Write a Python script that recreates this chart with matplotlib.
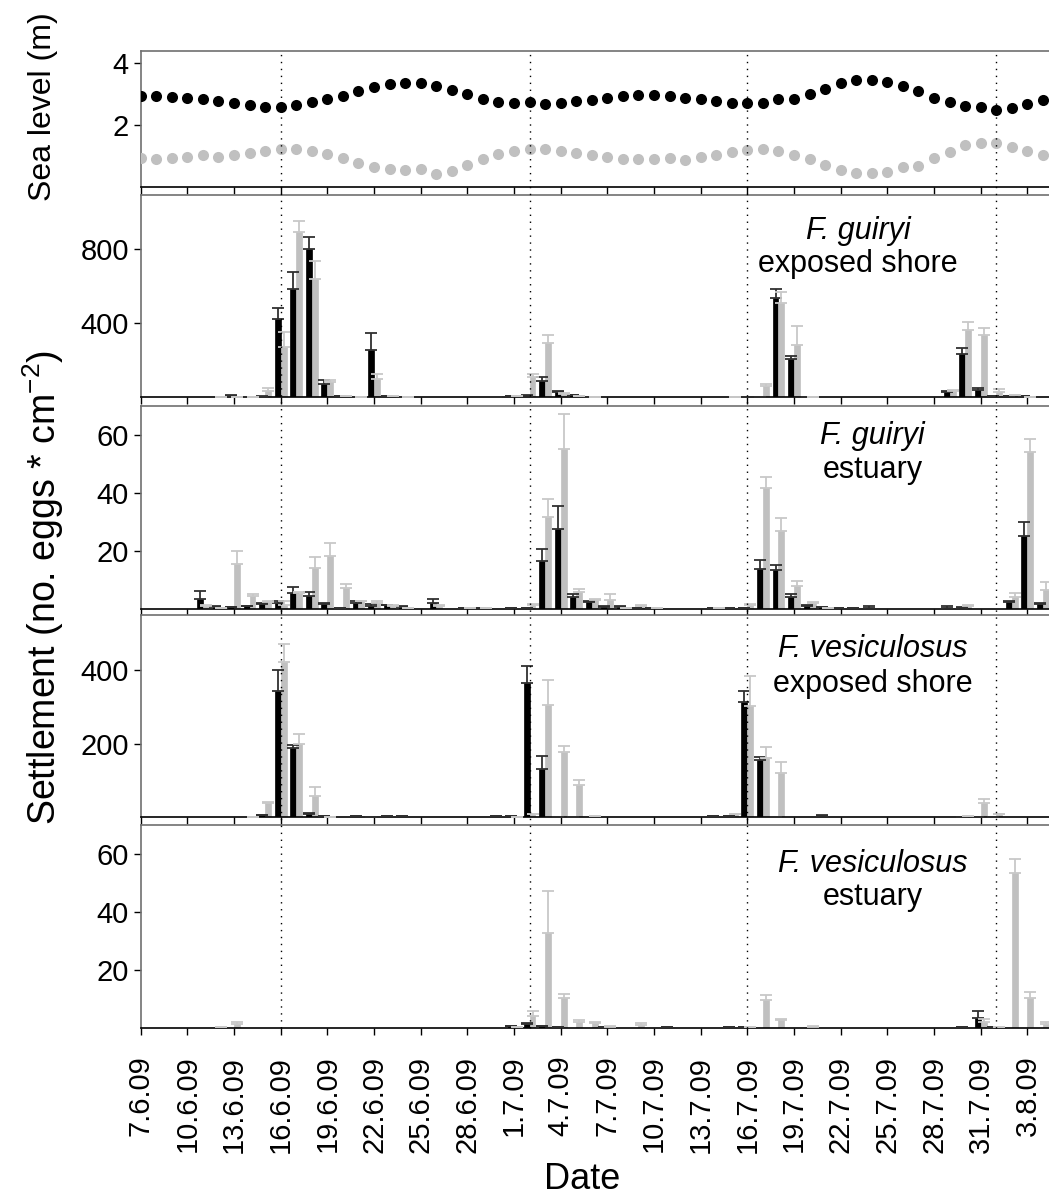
import matplotlib
matplotlib.use('Agg')
import matplotlib.pyplot as plt
import matplotlib.transforms as mtransforms
from matplotlib.lines import Line2D
import numpy as np

plt.rcParams['font.family'] = ['Liberation Sans', 'DejaVu Sans']
plt.rcParams['mathtext.fontset'] = 'custom'
plt.rcParams['mathtext.rm'] = 'Liberation Sans'
plt.rcParams['mathtext.it'] = 'Liberation Sans:italic'

# days since 7.6.09
days = np.arange(59)
tick_days = np.arange(0, 58, 3)
tick_labels = ['7.6.09', '10.6.09', '13.6.09', '16.6.09', '19.6.09', '22.6.09',
               '25.6.09', '28.6.09', '1.7.09', '4.7.09', '7.7.09', '10.7.09',
               '13.7.09', '16.7.09', '19.7.09', '22.7.09', '25.7.09', '28.7.09',
               '31.7.09', '3.8.09']
spring_days = [9, 25, 39, 55]

# sea level (m), one value per day
high_tide = [2.95, 2.95, 2.91, 2.89, 2.83, 2.78, 2.72, 2.64, 2.59, 2.57,
             2.64, 2.75, 2.83, 2.95, 3.11, 3.22, 3.32, 3.36, 3.35, 3.27,
             3.13, 2.99, 2.84, 2.74, 2.72, 2.74, 2.69, 2.72, 2.78, 2.82,
             2.88, 2.94, 2.97, 2.97, 2.95, 2.89, 2.83, 2.77, 2.72, 2.70,
             2.72, 2.85, 2.83, 3.00, 3.18, 3.36, 3.45, 3.46, 3.39, 3.26,
             3.11, 2.89, 2.74, 2.61, 2.60, 2.48, 2.56, 2.68, 2.81]
low_tide = [0.93, 0.91, 0.94, 0.98, 1.02, 0.97, 1.03, 1.11, 1.17, 1.22,
            1.22, 1.15, 1.06, 0.93, 0.78, 0.65, 0.57, 0.55, 0.57, 0.42,
            0.53, 0.71, 0.90, 1.06, 1.18, 1.23, 1.23, 1.17, 1.11, 1.03,
            0.96, 0.91, 0.90, 0.90, 0.95, 0.87, 0.96, 1.03, 1.13, 1.19,
            1.22, 1.17, 1.05, 0.89, 0.70, 0.55, 0.46, 0.44, 0.49, 0.64,
            0.68, 0.93, 1.14, 1.35, 1.43, 1.41, 1.30, 1.17, 1.05]

# F. guiryi, exposed shore
gui_exp_black = [0, 0, 0, 0, 0, 0, 3, 1, 2, 422,
                 583, 800, 72, 4, 2, 252, 5, 1, 0, 0,
                 0, 0, 0, 2, 3, 5, 88, 25, 8, 2,
                 0, 0, 0, 0, 0, 0, 0, 0, 0, 2,
                 2, 535, 207, 2, 0, 0, 0, 0, 0, 0,
                 0, 0, 29, 234, 36, 5, 3, 3, 0]
gui_exp_black_err = [0, 0, 0, 0, 0, 0, 6, 0, 1, 57,
                     91, 65, 18, 1, 0, 94, 2, 0, 0, 0,
                     0, 0, 0, 0, 0, 6, 18, 5, 2, 0,
                     0, 0, 0, 0, 0, 0, 0, 0, 0, 0,
                     0, 47, 13, 0, 0, 0, 0, 0, 0, 0,
                     0, 0, 2, 29, 12, 2, 0, 0, 0]
gui_exp_grey = [0, 0, 0, 0, 0, 1, 1, 1, 34, 268,
                893, 640, 79, 4, 1, 97, 3, 2, 0, 0,
                0, 0, 0, 0, 3, 108, 291, 18, 4, 2,
                0, 0, 0, 0, 0, 0, 0, 0, 2, 0,
                57, 508, 283, 2, 0, 0, 0, 0, 0, 0,
                0, 0, 32, 360, 333, 27, 10, 2, 0]
gui_exp_grey_err = [0, 0, 0, 0, 0, 0, 0, 0, 13, 83,
                    60, 97, 11, 1, 0, 27, 0, 0, 0, 0,
                    0, 0, 0, 0, 0, 16, 42, 4, 0, 0,
                    0, 0, 0, 0, 0, 0, 0, 0, 0, 0,
                    13, 60, 101, 0, 0, 0, 0, 0, 0, 0,
                    0, 0, 8, 47, 38, 14, 3, 0, 0]

# F. guiryi, estuary
gui_est_black = [0, 0, 0, 0, 3.3, 0.8, 0.8, 1, 1.7, 2,
                 5.6, 4.5, 1.6, 0.5, 2.2, 1.1, 1.3, 0.6, 0, 2,
                 0, 0.3, 0.3, 0, 0.3, 0.5, 16.4, 27.5, 4.3, 2.5,
                 0.8, 0.8, 0.3, 0.3, 0, 0, 0, 0.3, 0.3, 0.3,
                 13.8, 13.4, 4.3, 1.1, 0.6, 0.2, 0.2, 0.5, 0, 0,
                 0, 0, 0.5, 0.5, 0, 0, 2.5, 25.2, 1.6]
gui_est_black_err = [0, 0, 0, 0, 3, 0.3, 0, 0.2, 0.5, 0.7,
                     1.9, 1.2, 0.4, 0, 0.7, 0.6, 0.2, 0.3, 0, 1.6,
                     0, 0, 0, 0, 0, 0, 4.3, 8, 0.8, 0.2,
                     0.3, 0.3, 0, 0, 0, 0, 0, 0, 0, 0,
                     3.1, 1.8, 0.8, 0.4, 0.1, 0, 0, 0.6, 0, 0,
                     0, 0, 0.4, 0.3, 0, 0, 0.2, 4.7, 0.5]
gui_est_grey = [0, 0, 0, 0, 1, 0.5, 15.4, 4.5, 2.5, 1.5,
                5.6, 14.2, 18.4, 7.1, 2.7, 2.2, 1.1, 0.5, 0, 1,
                0, 0.3, 0.3, 0, 0, 1.5, 31.8, 55.2, 5.7, 3.1,
                3.1, 0.5, 1.1, 0.3, 0, 0, 0, 0.3, 0, 1.5,
                41.6, 27, 8, 2, 0.4, 0, 0, 0, 0, 0,
                0, 0, 0, 1, 0, 0, 4, 54.3, 6.6]
gui_est_grey_err = [0, 0, 0, 0, 0.3, 0, 4.6, 0.6, 0.2, 1.2,
                    0.1, 3.7, 4.5, 1.4, 0.2, 0.5, 0.3, 0, 0, 0.5,
                    0, 0, 0, 0, 0, 0.1, 6.2, 12.1, 1.3, 0.5,
                    2, 0, 0.4, 0, 0, 0, 0, 0, 0, 0.1,
                    4, 4.3, 1.8, 0.3, 0, 0, 0, 0, 0, 0,
                    0, 0, 0, 0.5, 0, 0, 1.4, 4.5, 2.8]

# F. vesiculosus, exposed shore
ves_exp_black = [0, 0, 0, 0, 0, 0, 0, 0, 4.6, 343.6,
                 188, 9, 3, 0, 2, 1, 2, 2, 0, 0,
                 0, 0, 0, 2, 3, 363.6, 132, 1, 0.5, 0,
                 0, 0, 0, 0, 0, 0, 0, 2, 2, 313.6,
                 154.6, 1, 0, 0, 4, 0, 0, 0, 0, 0,
                 0, 0, 0, 1, 1, 1, 0, 0, 0]
ves_exp_black_err = [0, 0, 0, 0, 0, 0, 0, 0, 0, 56.4,
                     7.5, 1, 0, 0, 0, 0, 0, 0, 0, 0,
                     0, 0, 0, 0, 1, 48.2, 34, 0, 0, 0,
                     0, 0, 0, 0, 0, 0, 0, 0, 0, 30,
                     8.2, 0, 0, 0, 2.5, 0, 0, 0, 0, 0,
                     0, 0, 0, 0, 0, 0, 0, 0, 0]
ves_exp_grey = [0, 0, 0, 0, 0, 0, 0, 1, 38, 422.7,
                200, 57, 1, 0, 0, 0, 0, 0, 0, 0,
                0, 0, 0, 0, 1, 7, 304.6, 176.4, 88.3, 2,
                0, 0, 0, 0, 0, 0, 0, 0, 7, 302,
                161, 121, 0, 0, 0, 0, 0, 0, 0, 0,
                0, 0, 0, 2, 39, 8, 0, 0, 0]
ves_exp_grey_err = [0, 0, 0, 0, 0, 0, 0, 0, 3, 48.3,
                    27, 25, 0, 0, 0, 0, 0, 0, 0, 0,
                    0, 0, 0, 0, 0, 1, 68.2, 16.4, 13.7, 0,
                    0, 0, 0, 0, 0, 0, 0, 0, 1, 82.5,
                    30, 29, 0, 0, 0, 0, 0, 0, 0, 0,
                    0, 0, 0, 0, 9, 1, 0, 0, 0]

# F. vesiculosus, estuary
ves_est_black = [0, 0, 0, 0, 0, 0, 0, 0, 0, 0,
                 0, 0, 0, 0, 0, 0, 0, 0, 0, 0,
                 0, 0, 0, 0, 0.7, 1.4, 0.7, 0.2, 0, 0,
                 0.4, 0, 0, 0, 0.3, 0, 0, 0, 0.3, 0.3,
                 0, 0, 0, 0, 0, 0, 0, 0, 0, 0,
                 0, 0, 0, 0.3, 3.3, 0.5, 0, 0, 0]
ves_est_black_err = [0, 0, 0, 0, 0, 0, 0, 0, 0, 0,
                     0, 0, 0, 0, 0, 0, 0, 0, 0, 0,
                     0, 0, 0, 0, 0, 0.2, 0, 0, 0, 0,
                     0, 0, 0, 0, 0, 0, 0, 0, 0, 0,
                     0, 0, 0, 0, 0, 0, 0, 0, 0, 0,
                     0, 0, 0, 0, 2.7, 0, 0, 0, 0]
ves_est_grey = [0, 0, 0, 0, 0, 0.3, 1.4, 0, 0, 0,
                0, 0, 0, 0, 0, 0, 0, 0, 0, 0,
                0, 0, 0, 0, 0.5, 4.25, 32.6, 10.2, 2.2, 1.6,
                0.4, 0, 1, 0, 0, 0, 0, 0, 0, 0.3,
                9.7, 2.8, 0, 0.5, 0, 0, 0, 0, 0, 0,
                0, 0, 0, 0, 2.2, 0.3, 53.3, 10.5, 1.4]
ves_est_grey_err = [0, 0, 0, 0, 0, 0, 0.8, 0, 0, 0,
                    0, 0, 0, 0, 0, 0, 0, 0, 0, 0,
                    0, 0, 0, 0, 0, 1.75, 14.6, 1.5, 0.4, 0.5,
                    0.3, 0, 0.6, 0, 0, 0, 0, 0, 0, 0,
                    1.8, 0.4, 0, 0.3, 0, 0, 0, 0, 0, 0,
                    0, 0, 0, 0, 0.9, 0, 4.9, 1.8, 0.8]

species = ['F. guiryi', 'F. guiryi', 'F. vesiculosus', 'F. vesiculosus']
sites = ['exposed shore', 'estuary', 'exposed shore', 'estuary']
y_limits = [1093, 70, 550, 70]
y_ticks = [[400, 800], [20, 40, 60], [200, 400], [20, 40, 60]]

BLACK = '#000000'
GREY = '#c0c0c0'
FS = 21

fig = plt.figure(figsize=(10.49, 11.96), dpi=100)
left, width = 0.1341, 0.8659
rects = [(0.8436, 0.1137), (0.6681, 0.1689), (0.4908, 0.1697),
         (0.3169, 0.1689), (0.1405, 0.1697)]
axes = [fig.add_axes([left, b, width, h]) for b, h in rects]


def style_axis(ax):
    ax.set_xlim(0, 58.39)
    ax.spines['right'].set_visible(False)
    ax.spines['top'].set_color('#707070')
    ax.spines['left'].set_color('#707070')
    ax.spines['bottom'].set_color('black')
    for s in ax.spines.values():
        s.set_linewidth(1.2)
    ax.set_xticks(tick_days)
    ax.tick_params(axis='both', direction='out', length=5, width=1,
                   labelsize=FS, colors='black')
    ax.tick_params(axis='x', labelbottom=False)


def draw_bars(ax, black, black_err, grey, grey_err):
    w = 0.38
    for vals, errs, off, col, ecol in [(black, black_err, -w / 2, BLACK, '#303030'),
                                       (grey, grey_err, w / 2, GREY, '#c8c8c8')]:
        vals = np.array(vals, dtype=float)
        errs = np.array(errs, dtype=float)
        m = vals > 0
        x = days[m] + off
        ax.bar(x, vals[m], width=w, color=col, edgecolor=col, linewidth=0.5, zorder=2)
        ax.errorbar(x, vals[m], yerr=[np.zeros(m.sum()), errs[m]], fmt='none',
                    ecolor=ecol, elinewidth=1.3, capsize=4.5, capthick=1.3, zorder=3)


# sea level panel
ax0 = axes[0]
style_axis(ax0)
ax0.plot(days, high_tide, 'o', color=BLACK, markersize=8, markeredgewidth=0, zorder=3)
ax0.plot(days, low_tide, 'o', color=GREY, markersize=8, markeredgewidth=0, zorder=3)
ax0.set_ylim(0, 4.39)
ax0.set_yticks([2, 4])

panel_data = [
    (gui_exp_black, gui_exp_black_err, gui_exp_grey, gui_exp_grey_err),
    (gui_est_black, gui_est_black_err, gui_est_grey, gui_est_grey_err),
    (ves_exp_black, ves_exp_black_err, ves_exp_grey, ves_exp_grey_err),
    (ves_est_black, ves_est_black_err, ves_est_grey, ves_est_grey_err),
]
label_x = [0.79, 0.806, 0.806, 0.806]
label_y = [(0.781, 0.62), (0.811, 0.644), (0.793, 0.62), (0.77, 0.606)]

for i, ax in enumerate(axes[1:]):
    style_axis(ax)
    draw_bars(ax, *panel_data[i])
    ax.set_ylim(0, y_limits[i])
    ax.set_yticks(y_ticks[i])
    ax.text(label_x[i], label_y[i][0], species[i], transform=ax.transAxes,
            ha='center', va='baseline', fontsize=22, style='italic')
    ax.text(label_x[i], label_y[i][1], sites[i], transform=ax.transAxes,
            ha='center', va='baseline', fontsize=22)

axb = axes[-1]
axb.tick_params(axis='x', labelbottom=True, pad=15)
axb.set_xticklabels(tick_labels, rotation=90, fontsize=FS)
axb.set_xlabel('Date', fontsize=26)
axb.xaxis.set_label_coords(0.486, -0.66)

fig.text(0.041, 0.9105, 'Sea level (m)', rotation=90,
         ha='center', va='center', fontsize=23)
fig.text(0.041, 0.509, 'Settlement (no. eggs * cm$^{-2}$)', rotation=90,
         ha='center', va='center', fontsize=27)

# dotted lines for spring tides through all panels
trans = mtransforms.blended_transform_factory(axes[0].transData, fig.transFigure)
y_top = rects[0][0] + rects[0][1]
y_bot = rects[-1][0]
for d in spring_days:
    fig.add_artist(Line2D([d, d], [y_bot, y_top], transform=trans, color='black',
                          linewidth=1, linestyle=(0, (1, 4)), zorder=5))

fig.savefig('out.png', dpi=100)
